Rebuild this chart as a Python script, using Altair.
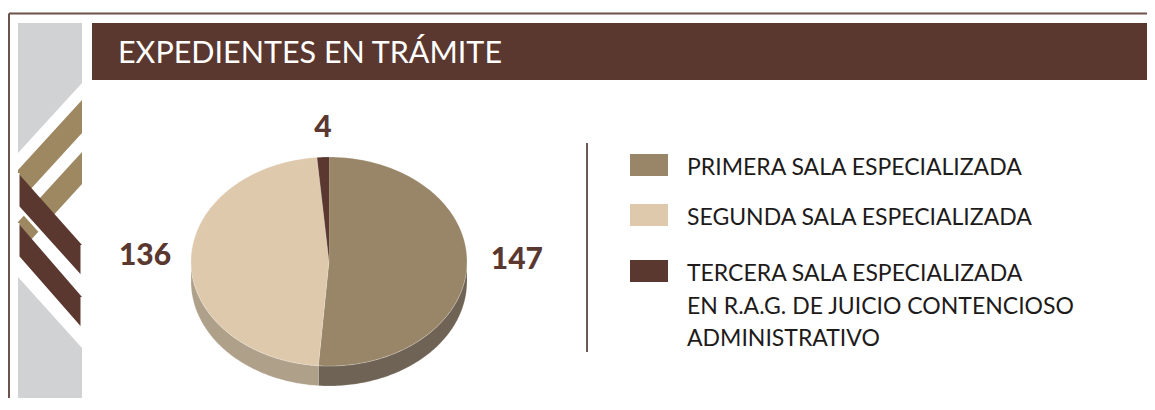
import altair as alt
import pandas as pd
import numpy as np

# ---------------- data ----------------
TITLE = "EXPEDIENTES EN TRÁMITE"
CATEGORIES = ["PRIMERA SALA ESPECIALIZADA",
              "SEGUNDA SALA ESPECIALIZADA",
              "TERCERA SALA ESPECIALIZADA EN R.A.G. DE JUICIO CONTENCIOSO ADMINISTRATIVO"]
LEGEND_LINES = [["PRIMERA SALA ESPECIALIZADA"],
                ["SEGUNDA SALA ESPECIALIZADA"],
                ["TERCERA SALA ESPECIALIZADA", "EN R.A.G. DE JUICIO CONTENCIOSO", "ADMINISTRATIVO"]]
VALUES = [147, 136, 4]
TOP_COLORS = ["#998668", "#dfc9ad", "#5a3830"]
SIDE_COLORS = ["#6e6354", "#afa08a", "#452a24"]

# ---------------- layout (screen pixels) ----------------
W, H = 1139, 390
X0, Y0 = 8, 8
XS = alt.Scale(domain=[X0, X0 + W], nice=False, zero=False)
YS = alt.Scale(domain=[Y0, Y0 + H], nice=False, zero=False, reverse=True)
BOTTOM = Y0 + H
RIGHT = X0 + W
BROWN = "#5a3830"
FRAME = "#6d534b"
GRAY = "#d1d2d4"
TAN = "#9d8862"

CX, CY, RX, RY, DEPTH = 329, 261.5, 138, 104.5, 20


def xy(x, y):
    return dict(x=alt.X(x, type="quantitative", scale=XS, axis=None),
                y=alt.Y(y, type="quantitative", scale=YS, axis=None))


def poly_rows(name, pts, color):
    return [dict(poly=name, k=i, px=p[0], py=p[1], col=color) for i, p in enumerate(pts)]


def poly_layer(rows, **mark):
    df = pd.DataFrame(rows)
    return alt.Chart(df).mark_line(filled=True, **mark).encode(
        **xy("px", "py"),
        color=alt.Color("col:N", scale=None),
        detail="poly:N",
        order=alt.Order("k:Q"),
    )


# ---------------- decorative band ----------------
band_rows = []
band_rows += poly_rows("g1", [(18, 23), (82, 23), (82, 83), (18, 153)], GRAY)
band_rows += poly_rows("g2", [(18, 277), (82, 348), (82, BOTTOM), (18, BOTTOM)], GRAY)
tan_rows = []
tan_rows += poly_rows("t1", [(82, 100), (82, 133), (18, 203), (18, 170)], TAN)
tan_rows += poly_rows("t2", [(82, 152), (82, 184), (18, 254), (18, 222)], TAN)
brown_rows = []
brown_rows += poly_rows("b1", [(18, 173), (18, 207), (82, 278), (82, 245)], BROWN)
brown_rows += poly_rows("b2", [(18, 223), (18, 257), (82, 330), (82, 297)], BROWN)

rects = pd.DataFrame([
    dict(x=92, x2=RIGHT, y=23, y2=80, col=BROWN),       # title bar
])
title_bar = alt.Chart(rects).mark_rect().encode(
    **xy("x", "y"), x2="x2:Q", y2="y2:Q", color=alt.Color("col:N", scale=None))

frame_df = pd.DataFrame([
    dict(x=9, x2=RIGHT, y=13.5, y2=13.5),
    dict(x=9, x2=9, y=13.5, y2=BOTTOM),
])
frame = alt.Chart(frame_df).mark_rule(color=FRAME, strokeWidth=2).encode(
    **xy("x", "y"), x2="x2:Q", y2="y2:Q")

title = alt.Chart(pd.DataFrame([dict(x=118, y=63, t=TITLE)])).mark_text(
    align="left", baseline="alphabetic", font="Lato", fontSize=30.5, color="white"
).encode(**xy("x", "y"), text="t:N")

# ---------------- pie ----------------
total = sum(VALUES)
starts = np.cumsum([0] + VALUES[:-1]) / total * 360
ends = np.cumsum(VALUES) / total * 360


def arc(a, b, dy=0.0):
    n = max(2, int(np.ceil((b - a) / 1.0)) + 1)
    ts = np.linspace(a, b, n)
    r = np.radians(ts)
    return list(zip(CX + RX * np.sin(r), CY - RY * np.cos(r) + dy))


top_rows, side_rows = [], []
for i, (a, b) in enumerate(zip(starts, ends)):
    top_rows += poly_rows(f"top{i}", [(CX, CY)] + arc(a, b), TOP_COLORS[i])
    fa, fb = max(a, 90.0), min(b, 270.0)
    if fb > fa:
        pts = arc(fa, fb) + arc(fa, fb, DEPTH)[::-1]
        side_rows += poly_rows(f"side{i}", pts, SIDE_COLORS[i])

# value labels positioned from slice mid-angles
LCX, LCY, LRX, LRY = 331, 255, 186, 127
lab = []
for i, (a, b) in enumerate(zip(starts, ends)):
    m = np.radians((a + b) / 2)
    lab.append(dict(x=LCX + LRX * np.sin(m), y=LCY - LRY * np.cos(m), t=str(VALUES[i])))
labels = alt.Chart(pd.DataFrame(lab)).mark_text(
    align="center", baseline="middle", font="Lato", fontWeight=900, fontSize=30, color=BROWN
).encode(**xy("x", "y"), text="t:N")

# ---------------- legend ----------------
SW_X, SW_W, SW_H = 630, 38, 22
SW_TOPS = [154, 204, 260]
sw = pd.DataFrame([dict(x=SW_X, x2=SW_X + SW_W, y=t, y2=t + SW_H, col=TOP_COLORS[i])
                   for i, t in enumerate(SW_TOPS)])
swatches = alt.Chart(sw).mark_rect().encode(
    **xy("x", "y"), x2="x2:Q", y2="y2:Q", color=alt.Color("col:N", scale=None))

leg_rows = []
for i, lines in enumerate(LEGEND_LINES):
    for j, line in enumerate(lines):
        leg_rows.append(dict(x=687, y=SW_TOPS[i] + 21 + j * 32.5, t=line))
legend_text = alt.Chart(pd.DataFrame(leg_rows)).mark_text(
    align="left", baseline="alphabetic", font="Lato", fontSize=23, color="#1e1b1b"
).encode(**xy("x", "y"), text="t:N")

divider = alt.Chart(pd.DataFrame([dict(x=587, y=143, y2=352)])).mark_rule(
    color="#6b5a52", strokeWidth=2).encode(**xy("x", "y"), y2="y2:Q")

chart = alt.layer(
    frame,
    poly_layer(band_rows),
    poly_layer(tan_rows),
    poly_layer(brown_rows, stroke="white", strokeWidth=3),
    title_bar,
    title,
    poly_layer(side_rows, stroke="white", strokeWidth=0.4, strokeOpacity=0.5),
    poly_layer(top_rows, stroke="white", strokeWidth=0.4, strokeOpacity=0.5),
    labels,
    divider,
    swatches,
    legend_text,
).properties(
    width=W, height=H,
    autosize=alt.AutoSizeParams(type="none"),
    padding=0, background="white",
).configure_view(stroke=None)

chart.save("out.html", embed_options={"renderer": "svg", "actions": False})
